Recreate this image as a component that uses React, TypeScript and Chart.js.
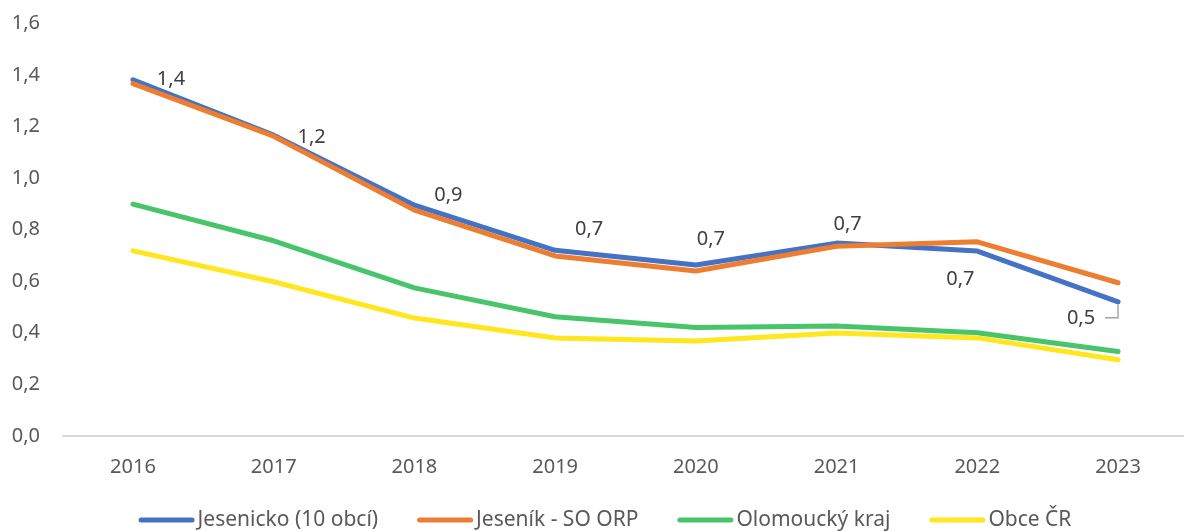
import React, { useEffect, useRef } from "react";
import { Chart, registerables } from "chart.js";

Chart.register(...registerables);

const years = ["2016", "2017", "2018", "2019", "2020", "2021", "2022", "2023"];
const jesenicko = [1.382, 1.167, 0.895, 0.72, 0.663, 0.748, 0.717, 0.52];
const jesenikOrp = [1.367, 1.163, 0.876, 0.698, 0.64, 0.736, 0.753, 0.594];
const olomoucky = [0.899, 0.757, 0.574, 0.462, 0.42, 0.426, 0.4, 0.327];
const obceCR = [0.718, 0.598, 0.457, 0.38, 0.368, 0.399, 0.38, 0.295];
const seriesNames = ["Jesenicko (10 obcí)", "Jeseník - SO ORP", "Olomoucký kraj", "Obce ČR"];
const yTickMin = 0;
const yTickMax = 1.6;
const yTickStep = 0.2;

// label placement for the Jesenicko data labels (dx, dy from the point)
const labelOffsets = [
  [38, 0], [38, 2], [34, -10], [34, -21], [15, -26], [11, -19], [-17, 28], [-37, 16],
];

const FONT = '"Noto Sans", "Open Sans", sans-serif';
const fmt = (v: number) => v.toFixed(1).replace(".", ",");

const colors = ["#4472C4", "#ED7D31", "#48C46A", "#FFE61E"];

const W = 1190;
const H = 531;
const TARGET_TOP = 23.5;
const TARGET_BOTTOM = 435.7;
const X_AXIS_H = 95.3;

const labelsPlugin = {
  id: "customLabels",
  afterDatasetsDraw(chart: any) {
    const ctx = chart.ctx;
    const meta = chart.getDatasetMeta(0);
    const data = chart.data.datasets[0].data as number[];
    ctx.save();
    ctx.font = `20px ${FONT}`;
    ctx.fillStyle = "#404040";
    ctx.textAlign = "center";
    ctx.textBaseline = "middle";
    meta.data.forEach((pt: any, i: number) => {
      const [dx, dy] = labelOffsets[i];
      ctx.fillText(fmt(data[i]), pt.x + dx, pt.y + dy);
      if (i === data.length - 1) {
        ctx.strokeStyle = "#A6A6A6";
        ctx.lineWidth = 1.5;
        ctx.beginPath();
        ctx.moveTo(pt.x, pt.y + 3);
        ctx.lineTo(pt.x, pt.y + dy);
        ctx.lineTo(pt.x - 13, pt.y + dy);
        ctx.stroke();
      }
    });
    ctx.restore();
  },
  afterDraw(chart: any) {
    const ctx = chart.ctx;
    const shift = chart.$shift || 0;
    ctx.save();
    ctx.font = `21px ${FONT}`;
    ctx.textBaseline = "middle";
    ctx.textAlign = "left";
    const lineLen = 56;
    const gap = 3;
    const spacing = 39;
    const ds = chart.data.datasets;
    const widths = ds.map((d: any) => ctx.measureText(d.label).width);
    const total =
      widths.reduce((a: number, w: number) => a + lineLen + gap + w, 0) + spacing * (ds.length - 1);
    let x = 605 - total / 2;
    const y = 520 + shift;
    ds.forEach((d: any, i: number) => {
      ctx.strokeStyle = d.borderColor;
      ctx.lineWidth = 5;
      ctx.lineCap = "round";
      ctx.beginPath();
      ctx.moveTo(x + 2.5, y);
      ctx.lineTo(x + lineLen - 2.5, y);
      ctx.stroke();
      ctx.fillStyle = "#595959";
      ctx.fillText(d.label, x + lineLen + gap, y);
      x += lineLen + gap + widths[i] + spacing;
    });
    ctx.restore();
  },
};

export default function App() {
  const ref = useRef<HTMLCanvasElement>(null);
  useEffect(() => {
    document.documentElement.style.overflow = "hidden";
    document.body.style.overflow = "hidden";
    const canvas = ref.current!;
    const series = [jesenicko, jesenikOrp, olomoucky, obceCR];
    const chart: any = new Chart(canvas, {
      type: "line",
      data: {
        labels: years,
        datasets: series.map((s, i) => ({
          label: seriesNames[i],
          data: s,
          borderColor: colors[i],
          backgroundColor: colors[i],
          borderWidth: 5,
          pointRadius: 0,
          borderCapStyle: "round",
          borderJoinStyle: "round",
          tension: 0,
          order: 4 - i,
        })),
      },
      options: {
        animation: false,
        responsive: false,
        maintainAspectRatio: false,
        layout: { autoPadding: false, padding: { top: TARGET_TOP, right: 1.6, left: 0, bottom: 0 } },
        plugins: { legend: { display: false }, tooltip: { enabled: false } },
        scales: {
          x: {
            offset: true,
            grid: { display: false, drawTicks: false, offset: true },
            border: { display: true, color: "#D9D9D9", width: 2 },
            ticks: { color: "#595959", font: { family: FONT, size: 20 }, padding: 19, maxRotation: 0 },
            afterFit: (scale: any) => {
              scale.height = X_AXIS_H;
            },
          },
          y: {
            min: yTickMin,
            max: yTickMax,
            grid: { display: false, drawTicks: false },
            border: { display: false },
            ticks: {
              stepSize: yTickStep,
              color: "#595959",
              font: { family: FONT, size: 20 },
              padding: 22.6,
              callback: (v: any) => fmt(Number(v)),
            },
            afterFit: (scale: any) => {
              scale.width = 62.6;
            },
          },
        },
      },
      plugins: [labelsPlugin],
    });
    // fit the plot area to the target box: shift the canvas and adjust its height
    let shift = 0;
    let h = H;
    for (let k = 0; k < 8; k++) {
      const t = chart.chartArea.top - shift;
      const b = chart.chartArea.bottom - shift;
      const dt = t - TARGET_TOP;
      const db = TARGET_BOTTOM - b;
      if (Math.abs(dt) < 0.3 && Math.abs(db) < 0.3) break;
      shift += dt;
      h += dt + db;
      chart.$shift = shift;
      canvas.style.marginTop = `${-shift}px`;
      chart.resize(W, h);
    }
    return () => chart.destroy();
  }, []);
  return (
    <div style={{ position: "fixed", left: 0, top: 0, width: W, height: H, overflow: "hidden", background: "#fff" }}>
      <canvas ref={ref} width={W} height={H} style={{ display: "block" }} />
    </div>
  );
}
